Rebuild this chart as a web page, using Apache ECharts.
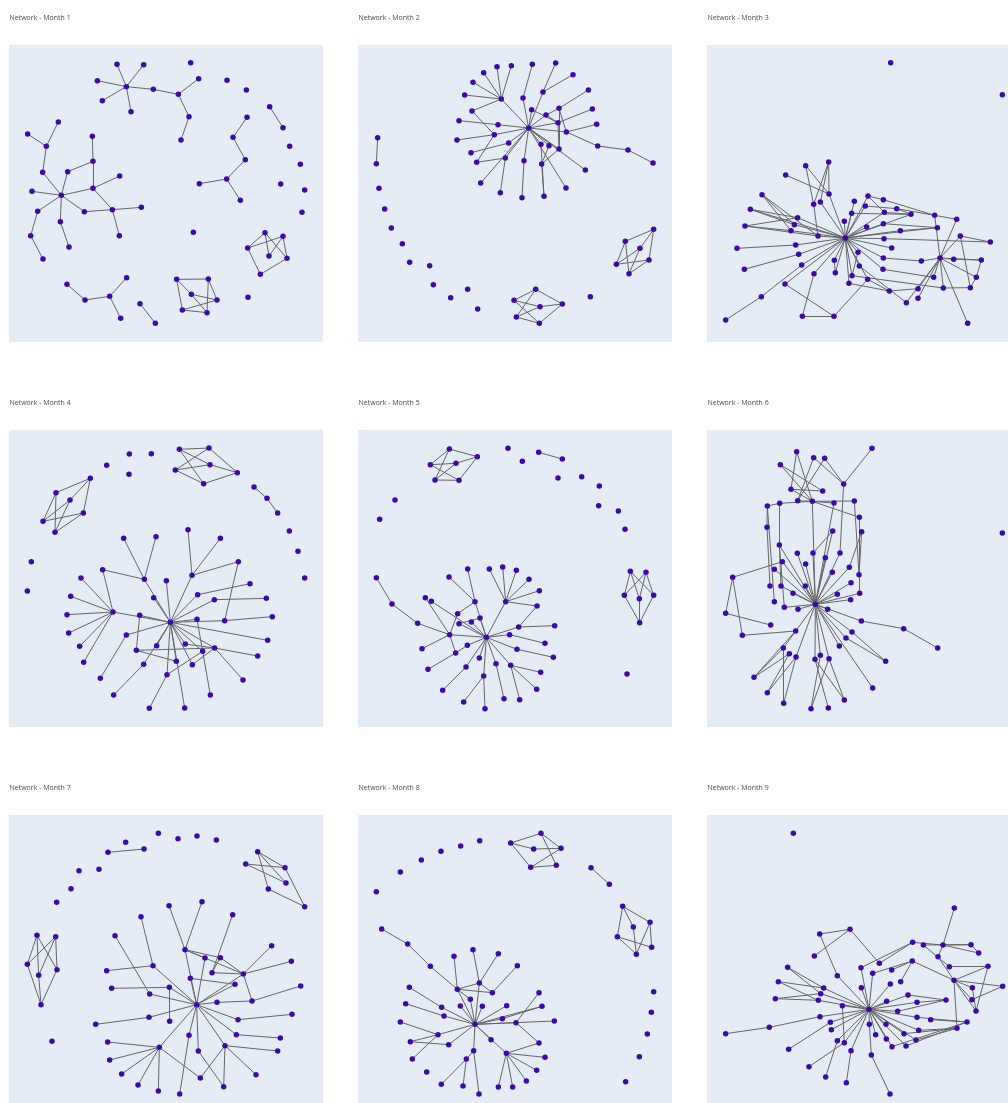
<!DOCTYPE html>
<html>
<head>
<meta charset="utf-8">
<title>Network by Month</title>
<script src="https://cdn.jsdelivr.net/npm/echarts@6/dist/echarts.min.js"></script>
<style>
  html, body { margin: 0; padding: 0; background: #ffffff; overflow: hidden; width: 1008px; height: 1103px; }
  /* canvas is wider and taller than the window so the last column and row run past the edge */
  #chart { width: 1040px; height: 1130px; }
</style>
</head>
<body>
<div id="chart"></div>
<script>
// Panel titles
const monthTitles = [
  'Network - Month 1', 'Network - Month 2', 'Network - Month 3',
  'Network - Month 4', 'Network - Month 5', 'Network - Month 6',
  'Network - Month 7', 'Network - Month 8', 'Network - Month 9'
];

// Node layout coordinates per month ([x, y], y grows downward) and links as index pairs
const month1Nodes = [
  [380,260],[352,193],[432,194],[293,242],[308,302],[394,335],[461,268],[536,283],[597,236],[568,350],
  [544,420],[573,188],[682,241],[740,270],[810,320],[850,383],[870,439],[902,493],[843,552],[915,570],
  [907,637],[581,697],[742,352],[700,412],[737,479],[681,537],[599,551],[722,601],[185,586],[176,366],
  [84,402],[140,439],[129,517],[97,574],[204,515],[278,409],[280,484],[280,565],[360,528],[254,635],
  [338,629],[425,622],[359,707],[114,634],[93,707],[130,777],[182,665],[208,741],[202,853],[256,900],
  [330,889],[381,833],[363,955],[421,911],[467,970],[531,838],[626,837],[575,883],[652,900],[548,930],
  [622,938],[796,698],[850,709],[744,744],[808,768],[862,775],[782,823],[745,892]
];
const month1Links = [
  [0,1],[0,2],[0,3],[0,4],[0,5],[0,6],[6,7],[7,8],[7,9],[9,10],[14,15],[22,23],[23,24],[24,25],[25,26],
  [25,27],[29,31],[30,31],[31,32],[32,28],[33,28],[28,34],[34,36],[35,36],[36,37],[28,37],[37,38],[28,39],
  [39,40],[37,40],[40,41],[40,42],[28,43],[43,44],[44,45],[28,46],[46,47],[48,49],[49,50],[50,51],[50,52],
  [53,54],[55,56],[55,57],[55,59],[56,58],[56,60],[57,58],[57,60],[59,60],[59,58],[61,63],[62,63],[61,64],
  [61,65],[62,64],[62,65],[63,66],[65,66]
];

const month2Nodes = [
  [537,384],[455,297],[402,218],[442,200],[485,197],[370,247],[345,285],[367,333],[580,276],[548,193],
  [618,189],[670,224],[520,294],[716,270],[728,327],[741,373],[628,325],[589,345],[546,329],[625,368],
  [650,396],[628,447],[598,437],[574,433],[576,492],[583,589],[523,482],[517,593],[649,564],[707,510],
  [744,438],[835,450],[910,489],[445,374],[328,362],[434,404],[322,420],[477,429],[364,458],[381,487],
  [467,474],[393,549],[452,578],[84,413],[80,491],[88,565],[105,627],[125,684],[158,731],[180,787],
  [240,797],[251,854],[303,893],[354,868],[384,927],[722,890],[558,868],[493,901],[571,920],[638,912],
  [500,951],[569,970],[912,688],[827,724],[871,745],[800,793],[898,780],[838,821]
];
const month2Links = [
  [0,1],[1,2],[1,3],[1,4],[1,5],[1,6],[1,7],[9,12],[12,0],[10,8],[11,8],[8,0],[13,16],[16,20],[16,21],
  [16,17],[14,19],[15,20],[0,18],[18,19],[0,17],[17,19],[0,19],[0,20],[20,30],[30,31],[31,32],[19,21],
  [0,21],[0,22],[21,24],[22,24],[0,23],[23,25],[24,25],[0,26],[26,27],[0,28],[0,29],[0,33],[33,34],
  [0,35],[35,36],[35,7],[0,37],[37,38],[35,39],[0,40],[40,42],[40,39],[0,41],[43,44],[56,57],[56,59],
  [56,60],[57,58],[57,61],[58,59],[60,58],[60,61],[59,61],[62,63],[62,64],[62,66],[63,65],[63,67],[64,65],
  [64,67],[65,66],[66,67]
];

const month3Nodes = [
  [392,264],[342,36],[273,47],[213,75],[343,132],[297,163],[317,156],[142,134],[107,178],[91,228],
  [249,203],[239,224],[229,242],[310,258],[67,295],[243,285],[252,313],[89,358],[261,345],[298,371],
  [211,402],[140,440],[33,510],[263,499],[358,499],[419,154],[460,138],[506,149],[452,168],[411,190],
  [389,214],[509,187],[546,176],[589,193],[456,231],[506,221],[557,242],[660,196],[726,208],[668,233],
  [508,266],[531,294],[430,307],[359,331],[434,348],[506,324],[505,358],[362,368],[412,377],[459,388],
  [403,400],[620,333],[676,324],[737,258],[827,276],[717,328],[800,330],[657,382],[785,382],[686,414],
  [767,413],[524,423],[610,416],[610,445],[575,458],[759,520],[528,-262],[863,-166]
];
const month3Links = [
  [1,4],[1,5],[1,6],[2,5],[2,4],[3,4],[4,0],[6,0],[5,13],[7,11],[7,12],[7,13],[8,10],[8,11],[8,0],
  [9,10],[9,12],[9,13],[10,0],[11,0],[12,0],[13,0],[14,15],[15,0],[17,16],[16,0],[18,0],[22,21],[21,18],
  [20,24],[20,0],[23,24],[23,19],[19,0],[24,49],[0,25],[0,26],[0,28],[0,29],[0,30],[0,34],[0,35],[0,31],
  [0,40],[0,41],[0,36],[0,42],[0,43],[0,44],[0,47],[0,48],[0,50],[0,39],[0,33],[0,45],[0,46],[0,49],
  [26,27],[27,37],[37,38],[26,31],[31,33],[32,33],[28,32],[32,37],[29,33],[35,39],[36,39],[37,52],[38,52],
  [53,52],[53,54],[40,54],[53,60],[52,56],[52,55],[52,57],[52,59],[52,62],[52,63],[52,58],[52,51],[52,64],
  [55,56],[56,58],[58,60],[59,60],[45,51],[46,57],[49,61],[61,62],[44,64],[50,61],[48,59],[65,52],[43,47],
  [42,48]
];

const month4Nodes = [
  [539,163],[628,159],[631,209],[527,225],[612,266],[713,233],[272,250],[169,293],[211,315],[130,379],
  [251,354],[166,412],[321,211],[389,177],[455,176],[388,238],[763,276],[802,310],[834,354],[869,408],
  [895,469],[915,549],[95,500],[83,588],[512,682],[340,651],[309,524],[244,549],[213,604],[202,659],
  [207,714],[240,754],[252,802],[372,430],[469,425],[434,553],[565,404],[662,430],[577,541],[716,500],
  [500,557],[462,608],[594,599],[751,566],[644,614],[800,610],[592,673],[675,677],[818,665],[420,661],
  [410,766],[380,720],[302,850],[342,900],[432,808],[471,752],[557,747],[609,769],[645,759],[530,799],
  [578,809],[502,839],[449,940],[555,939],[632,900],[730,855],[774,783],[804,736]
];
const month4Links = [
  [0,1],[0,2],[0,4],[1,3],[1,5],[2,3],[2,5],[3,4],[4,5],[6,7],[6,8],[6,10],[7,9],[7,11],[8,9],[8,11],
  [9,10],[10,11],[16,17],[17,18],[24,25],[25,26],[25,27],[25,28],[25,29],[25,30],[25,31],[25,32],[26,35],
  [33,35],[34,35],[35,24],[36,38],[37,38],[38,24],[39,38],[40,24],[41,24],[42,43],[42,24],[44,45],[44,24],
  [24,46],[46,64],[47,48],[24,47],[39,47],[24,49],[49,50],[24,51],[51,52],[53,54],[54,24],[24,55],[24,56],
  [24,57],[24,58],[24,59],[24,60],[24,61],[24,63],[58,65],[50,58],[56,58],[61,62],[61,57],[50,59],[60,58],
  [24,67],[58,66]
];

const month5Nodes = [
  [299,162],[383,185],[242,209],[319,205],[256,255],[328,256],[475,160],[518,199],[567,172],[638,192],
  [625,249],[696,245],[749,273],[747,332],[806,348],[826,403],[136,315],[90,373],[842,529],[889,532],
  [824,601],[869,611],[912,601],[870,683],[832,837],[410,727],[80,548],[127,627],[204,685],[300,719],
  [217,761],[324,656],[227,608],[245,619],[328,686],[365,681],[391,669],[376,620],[298,546],[354,522],
  [353,751],[318,774],[235,823],[389,789],[349,816],[279,886],[402,843],[342,921],[406,941],[468,620],
  [419,522],[459,516],[500,526],[538,553],[569,587],[562,633],[507,696],[615,692],[480,719],[586,745],
  [502,763],[611,787],[439,806],[483,811],[573,832],[561,883],[463,911],[510,914]
];
const month5Links = [
  [0,1],[0,4],[1,3],[1,5],[2,3],[2,5],[2,0],[4,5],[3,4],[8,9],[18,20],[18,21],[18,22],[19,20],[19,21],
  [19,22],[20,23],[21,23],[22,23],[26,27],[27,28],[28,29],[29,25],[29,30],[29,31],[29,32],[25,33],[25,34],
  [25,35],[25,36],[25,37],[37,38],[37,39],[31,37],[36,34],[25,40],[29,41],[41,42],[40,41],[25,43],[25,44],
  [44,45],[25,46],[46,47],[46,48],[25,62],[62,66],[25,63],[63,67],[63,64],[63,65],[25,60],[60,61],[25,58],
  [58,59],[25,56],[56,57],[56,55],[25,49],[49,50],[49,51],[49,52],[49,53],[49,54],[49,55]
];

const month6Nodes = [
  [347,628],[517,160],[291,170],[342,188],[375,190],[242,209],[432,267],[274,283],[369,288],[294,317],
  [338,319],[203,333],[240,325],[403,324],[464,318],[479,367],[202,397],[486,410],[399,408],[239,450],
  [293,475],[340,474],[377,488],[421,474],[248,500],[318,507],[224,523],[398,532],[449,517],[478,539],
  [99,547],[454,563],[211,573],[244,573],[317,573],[280,595],[413,598],[453,614],[480,595],[224,620],
  [254,637],[295,643],[384,643],[78,655],[213,690],[485,678],[612,701],[714,759],[128,721],[288,708],
  [457,711],[439,729],[419,753],[251,759],[269,776],[289,786],[362,781],[346,793],[388,791],[558,799],
  [163,847],[519,879],[203,893],[252,925],[334,941],[386,939],[434,915],[908,414]
];
const month6Links = [
  [0,10],[0,19],[0,20],[0,21],[0,22],[0,23],[0,24],[0,25],[0,26],[0,27],[0,28],[0,31],[0,33],[0,34],
  [0,35],[0,36],[0,37],[0,38],[0,40],[0,41],[0,42],[0,45],[0,50],[0,51],[0,52],[0,49],[0,56],[0,57],
  [0,58],[0,55],[0,61],[0,13],[0,18],[2,7],[2,10],[3,6],[3,9],[4,6],[4,9],[5,8],[5,10],[1,6],[6,23],
  [7,8],[9,10],[10,13],[10,14],[11,12],[12,10],[10,15],[11,16],[16,32],[14,29],[15,38],[17,28],[18,21],
  [19,33],[30,43],[43,44],[30,48],[48,49],[30,24],[49,53],[49,60],[53,60],[54,60],[55,62],[55,63],[53,63],
  [54,62],[56,64],[57,65],[57,66],[58,64],[58,66],[51,59],[50,59],[45,46],[46,47],[11,39],[12,19],[19,40],
  [17,29],[7,10]
];

const month7Nodes = [
  [476,160],[535,176],[592,168],[650,180],[378,187],[325,217],[433,207],[298,268],[238,272],[214,326],
  [171,367],[157,784],[774,215],[738,252],[856,263],[859,309],[806,327],[915,380],[112,466],[168,470],
  [83,553],[117,586],[172,569],[124,674],[591,674],[508,377],[607,365],[699,404],[424,410],[346,467],
  [556,509],[616,534],[662,533],[460,557],[637,578],[731,582],[816,497],[875,544],[321,572],[572,595],
  [706,613],[903,618],[336,625],[509,622],[450,642],[652,667],[757,663],[288,733],[448,712],[510,724],
  [715,719],[877,703],[568,766],[710,764],[842,774],[324,786],[479,802],[676,797],[834,813],[596,813],
  [330,840],[366,882],[415,915],[476,933],[540,942],[602,894],[672,920],[769,884]
];
const month7Links = [
  [5,6],[12,14],[12,15],[12,16],[13,14],[13,15],[16,17],[14,17],[18,20],[18,21],[18,22],[19,20],[19,21],
  [19,22],[20,23],[21,23],[22,23],[25,30],[26,30],[27,34],[28,33],[29,44],[30,24],[30,31],[30,32],[30,35],
  [32,35],[36,35],[37,35],[35,24],[35,46],[46,41],[34,35],[39,40],[40,24],[38,33],[33,24],[42,43],[43,49],
  [43,24],[44,24],[24,45],[45,46],[47,48],[48,24],[24,50],[50,51],[24,53],[53,54],[24,52],[24,59],[59,66],
  [24,56],[56,55],[56,60],[56,61],[56,62],[56,63],[56,65],[24,57],[57,58],[57,67],[57,66],[57,65],[52,64],
  [24,39],[24,31],[32,34]
];

const month8Nodes = [
  [574,160],[483,189],[552,207],[634,205],[543,262],[620,256],[390,182],[333,198],[274,214],[215,240],
  [152,276],[80,335],[724,263],[779,313],[819,379],[901,427],[851,441],[803,470],[906,502],[860,523],
  [912,635],[905,697],[893,762],[869,830],[828,905],[376,733],[96,447],[174,492],[242,559],[323,628],
  [313,529],[370,509],[446,521],[503,557],[389,609],[428,638],[568,638],[179,622],[168,671],[276,682],
  [332,678],[398,679],[471,677],[577,679],[283,708],[458,716],[499,728],[614,723],[152,726],[265,764],
  [182,785],[297,794],[424,779],[568,789],[372,812],[470,820],[586,832],[188,837],[350,837],[231,876],
  [561,871],[275,913],[340,918],[388,942],[446,921],[489,921],[530,903],[362,658]
];
const month8Links = [
  [0,1],[0,3],[0,5],[1,2],[1,4],[2,3],[3,4],[4,5],[12,13],[14,15],[14,17],[14,16],[15,18],[15,19],
  [16,19],[17,18],[17,19],[26,27],[27,28],[28,29],[29,25],[29,30],[29,34],[29,35],[31,34],[32,34],[33,35],
  [34,35],[34,25],[29,67],[67,25],[37,39],[39,25],[38,44],[44,25],[48,49],[50,49],[57,49],[49,25],[51,25],
  [50,51],[41,25],[42,25],[43,25],[45,25],[46,25],[47,25],[52,25],[36,46],[43,45],[53,46],[25,55],[55,53],
  [55,56],[55,60],[55,64],[55,65],[55,66],[25,54],[54,58],[58,61],[58,62],[54,63],[25,40]
];

const month9Nodes = [
  [463,268],[236,-260],[719,-36],[315,42],[406,28],[299,108],[219,142],[191,185],[182,236],[327,204],
  [318,221],[311,241],[368,167],[383,257],[316,290],[347,307],[350,329],[164,322],[33,341],[222,388],
  [368,362],[389,368],[409,392],[283,440],[333,471],[395,488],[464,313],[470,405],[526,522],[439,143],
  [474,160],[494,130],[440,203],[531,150],[527,192],[558,185],[594,67],[626,75],[685,75],[769,74],
  [792,99],[670,110],[593,123],[704,140],[820,139],[718,181],[773,203],[864,199],[580,225],[516,244],
  [694,240],[607,247],[772,239],[549,274],[784,273],[607,292],[648,299],[514,313],[483,344],[515,357],
  [568,341],[612,331],[532,380],[574,378],[604,360],[727,325],[757,306]
];
const month9Links = [
  [0,9],[0,10],[0,11],[0,12],[0,13],[0,15],[0,16],[0,20],[0,21],[0,22],[0,26],[0,29],[0,30],[0,32],
  [0,34],[0,49],[0,53],[0,55],[0,57],[0,58],[0,59],[0,60],[0,61],[0,62],[0,63],[0,64],[0,51],[0,48],
  [0,14],[4,31],[3,4],[3,12],[5,4],[6,9],[6,10],[7,9],[7,11],[8,10],[8,11],[17,18],[17,14],[19,15],
  [23,21],[24,20],[25,22],[13,21],[27,26],[28,27],[31,36],[36,38],[37,39],[38,39],[38,40],[39,40],[41,45],
  [42,45],[43,44],[44,45],[45,46],[45,47],[45,54],[45,52],[45,65],[2,38],[38,41],[47,52],[30,42],[33,42],
  [35,42],[48,50],[51,50],[53,50],[55,66],[56,66],[60,65],[61,65],[64,65],[62,66],[63,66],[44,54],[46,54],
  [37,43],[29,36]
];

const monthNodes = [month1Nodes, month2Nodes, month3Nodes, month4Nodes, month5Nodes,
                    month6Nodes, month7Nodes, month8Nodes, month9Nodes];
const monthLinks = [month1Links, month2Links, month3Links, month4Links, month5Links,
                    month6Links, month7Links, month8Links, month9Links];

// Visible layout window of each panel: [xMin, yMin]; every window spans 942 x 891 units
const panelWindow = [
  [28, 135], [25, 135], [-23, -315],
  [28, 105], [25, 105], [22, 105],
  [28, 105], [25, 105], [-23, -315]
];
const WINDOW_W = 942, WINDOW_H = 891;

// Panel placement on the page (pixels)
const colLeft = [9, 358, 707];
const rowTop = [45, 430, 815];
const PANEL_W = 314, PANEL_H = 297;

const NODE_COLOR = '#3b0aad';
const EDGE_COLOR = '#666666';

const grids = [], xAxes = [], yAxes = [], series = [], titles = [];
for (let i = 0; i < 9; i++) {
  const col = i % 3, row = Math.floor(i / 3);
  grids.push({
    left: colLeft[col], top: rowTop[row], width: PANEL_W, height: PANEL_H,
    show: true, backgroundColor: '#E5ECF6', borderWidth: 0, containLabel: false
  });
  const hidden = { show: false };
  xAxes.push({
    gridIndex: i, type: 'value',
    min: panelWindow[i][0], max: panelWindow[i][0] + WINDOW_W,
    axisLine: hidden, axisTick: hidden, axisLabel: hidden, splitLine: hidden
  });
  yAxes.push({
    gridIndex: i, type: 'value', inverse: true,
    min: panelWindow[i][1], max: panelWindow[i][1] + WINDOW_H,
    axisLine: hidden, axisTick: hidden, axisLabel: hidden, splitLine: hidden
  });
  titles.push({
    text: monthTitles[i],
    left: colLeft[col] + 0.5, top: rowTop[row] - 31,
    padding: 0,
    textStyle: { fontSize: 7, fontWeight: 'normal', color: '#4d4d4d', fontFamily: 'Open Sans, Arial, sans-serif' }
  });
  series.push({
    type: 'graph',
    coordinateSystem: 'cartesian2d',
    xAxisIndex: i, yAxisIndex: i,
    data: monthNodes[i].map(p => ({ value: p })),
    links: monthLinks[i].map(([s, t]) => ({ source: s, target: t })),
    symbol: 'circle',
    symbolSize: 5.5,
    itemStyle: { color: NODE_COLOR },
    lineStyle: { color: EDGE_COLOR, width: 1, opacity: 1, curveness: 0 },
    label: { show: false },
    emphasis: { disabled: true },
    silent: true,
    clip: true
  });
}

const chart = echarts.init(document.getElementById('chart'), null, { renderer: 'canvas' });
chart.setOption({
  animation: false,
  backgroundColor: '#ffffff',
  title: titles,
  grid: grids,
  xAxis: xAxes,
  yAxis: yAxes,
  series: series
});
</script>
</body>
</html>
